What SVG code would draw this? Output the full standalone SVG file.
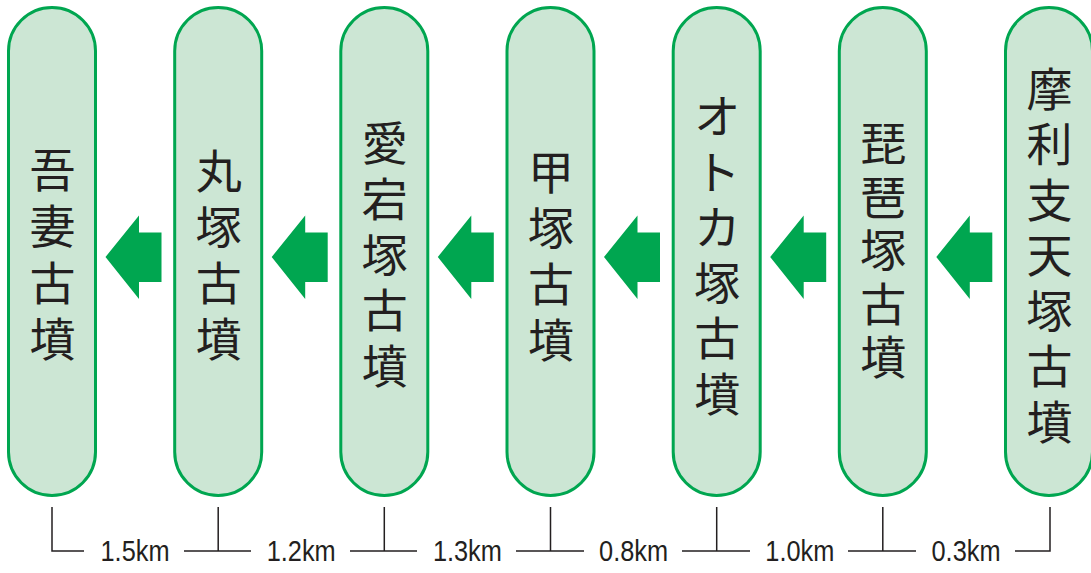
<svg xmlns="http://www.w3.org/2000/svg" width="1091" height="573" viewBox="0 0 1091 573">
<defs>
<style>
.pill{fill:#cce6d4;stroke:#00a650;stroke-width:3}
.nm{font-family:"Noto Sans CJK JP","Noto Sans CJK SC",sans-serif;font-size:46px;fill:#231f20;text-anchor:middle}
.arr{fill:#00a650}
.ln{stroke:#231f20;stroke-width:1.5;fill:none}
.km{font-family:"Liberation Sans",Arial,sans-serif;font-size:29px;fill:#231f20;text-anchor:middle}
</style>
</defs>
<rect width="1091" height="573" fill="#ffffff"/>
<g id="node-agatsuma">
<rect class="pill" x="8.5" y="7.5" width="87" height="488" rx="43.5"/>
<text class="nm"><tspan x="52.5" y="186.5">吾</tspan><tspan x="52.5" y="243">妻</tspan><tspan x="52.5" y="299.5">古</tspan><tspan x="52.5" y="356">墳</tspan></text>
</g>
<g id="node-maruzuka">
<rect class="pill" x="174.7" y="7.5" width="87" height="488" rx="43.5"/>
<text class="nm"><tspan x="218.7" y="188">丸</tspan><tspan x="218.7" y="244">塚</tspan><tspan x="218.7" y="300">古</tspan><tspan x="218.7" y="356">墳</tspan></text>
</g>
<g id="node-atagozuka">
<rect class="pill" x="340.8" y="7.5" width="87" height="488" rx="43.5"/>
<text class="nm"><tspan x="384.8" y="160">愛</tspan><tspan x="384.8" y="215.7">宕</tspan><tspan x="384.8" y="271.5">塚</tspan><tspan x="384.8" y="327.2">古</tspan><tspan x="384.8" y="383">墳</tspan></text>
</g>
<g id="node-kabutozuka">
<rect class="pill" x="507" y="7.5" width="87" height="488" rx="43.5"/>
<text class="nm"><tspan x="551" y="189">甲</tspan><tspan x="551" y="245">塚</tspan><tspan x="551" y="301">古</tspan><tspan x="551" y="357">墳</tspan></text>
</g>
<g id="node-otokazuka">
<rect class="pill" x="673.2" y="7.5" width="87" height="488" rx="43.5"/>
<text class="nm"><tspan x="717.2" y="133">オ</tspan><tspan x="717.2" y="188.5">ト</tspan><tspan x="717.2" y="244">カ</tspan><tspan x="717.2" y="299.5">塚</tspan><tspan x="717.2" y="355">古</tspan><tspan x="717.2" y="410.5">墳</tspan></text>
</g>
<g id="node-biwazuka">
<rect class="pill" x="839.3" y="7.5" width="87" height="488" rx="43.5"/>
<text class="nm"><tspan x="883.3" y="160">琵</tspan><tspan x="883.3" y="213.5">琶</tspan><tspan x="883.3" y="267">塚</tspan><tspan x="883.3" y="320.5">古</tspan><tspan x="883.3" y="374">墳</tspan></text>
</g>
<g id="node-marishitenzuka">
<rect class="pill" x="1005.5" y="7.5" width="87" height="488" rx="43.5"/>
<text class="nm"><tspan x="1049.5" y="105.5">摩</tspan><tspan x="1049.5" y="161">利</tspan><tspan x="1049.5" y="216.5">支</tspan><tspan x="1049.5" y="272">天</tspan><tspan x="1049.5" y="327.5">塚</tspan><tspan x="1049.5" y="383">古</tspan><tspan x="1049.5" y="438.5">墳</tspan></text>
</g>
<g id="connectors">
<path class="arr" d="M105.5,257 L139,215.5 L139,232.5 L161.5,232.5 L161.5,282 L139,282 L139,299 Z"/>
<path class="arr" transform="translate(166.2,0)" d="M105.5,257 L139,215.5 L139,232.5 L161.5,232.5 L161.5,282 L139,282 L139,299 Z"/>
<path class="arr" transform="translate(332.3,0)" d="M105.5,257 L139,215.5 L139,232.5 L161.5,232.5 L161.5,282 L139,282 L139,299 Z"/>
<path class="arr" transform="translate(498.5,0)" d="M105.5,257 L139,215.5 L139,232.5 L161.5,232.5 L161.5,282 L139,282 L139,299 Z"/>
<path class="arr" transform="translate(664.7,0)" d="M105.5,257 L139,215.5 L139,232.5 L161.5,232.5 L161.5,282 L139,282 L139,299 Z"/>
<path class="arr" transform="translate(830.8,0)" d="M105.5,257 L139,215.5 L139,232.5 L161.5,232.5 L161.5,282 L139,282 L139,299 Z"/>
</g>
<g id="distances">
<path class="ln" d="M52,507 V551 H84 M184,551 H251 M218.2,507 V551 M350,551 H417 M384.3,507 V551 M516,551 H584 M550.5,507 V551 M682,551 H750 M716.7,507 V551 M848,551 H916 M882.8,507 V551 M1015,551 H1050 V507"/>
<text class="km" x="135" y="561" textLength="69" lengthAdjust="spacingAndGlyphs">1.5km</text>
<text class="km" x="301.2" y="561" textLength="69" lengthAdjust="spacingAndGlyphs">1.2km</text>
<text class="km" x="467.4" y="561" textLength="69" lengthAdjust="spacingAndGlyphs">1.3km</text>
<text class="km" x="633.6" y="561" textLength="69" lengthAdjust="spacingAndGlyphs">0.8km</text>
<text class="km" x="799.8" y="561" textLength="69" lengthAdjust="spacingAndGlyphs">1.0km</text>
<text class="km" x="966" y="561" textLength="69" lengthAdjust="spacingAndGlyphs">0.3km</text>
</g>
</svg>
